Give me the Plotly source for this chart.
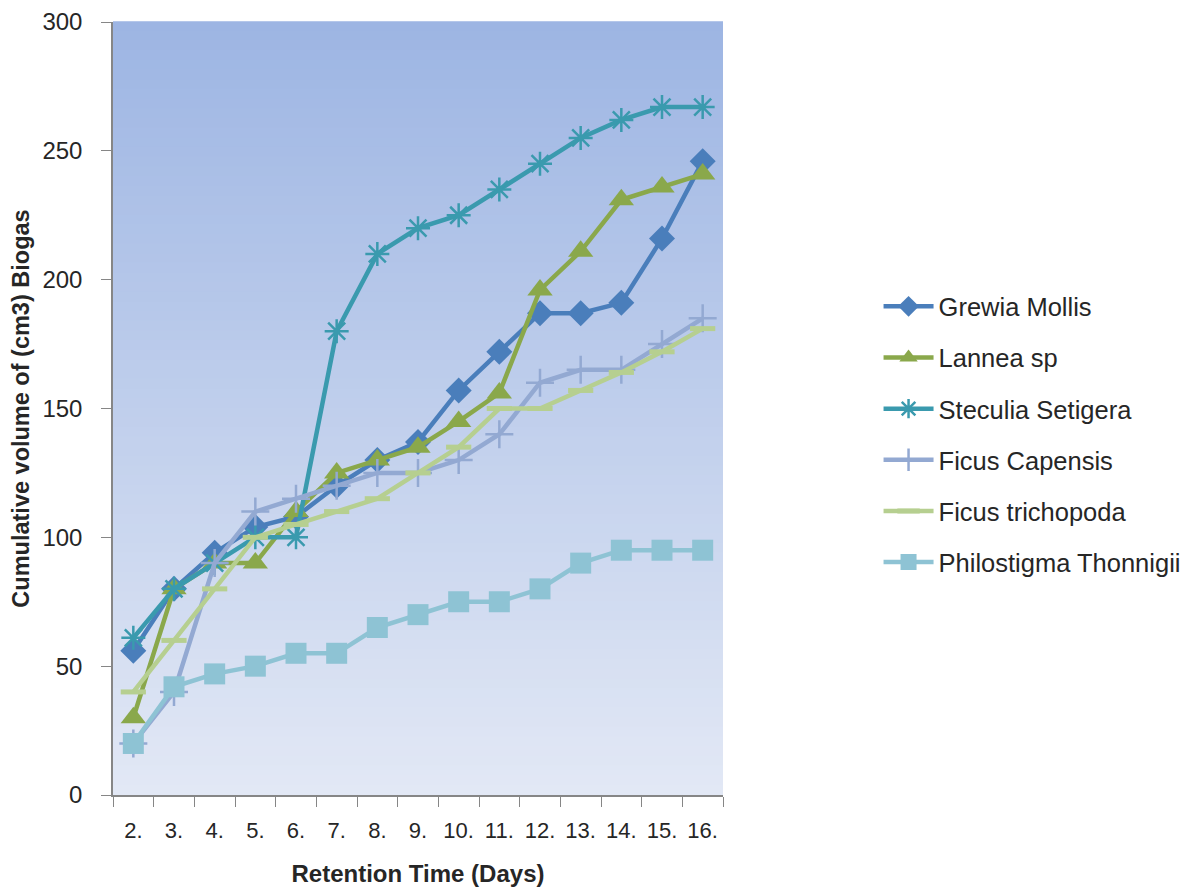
import plotly.graph_objects as go

days = ["2.", "3.", "4.", "5.", "6.", "7.", "8.", "9.", "10.", "11.", "12.", "13.", "14.", "15.", "16."]
grewia = [56, 80, 94, 104, 108, 120, 130, 137, 157, 172, 187, 187, 191, 216, 246]
lannea = [30, 80, 90, 90, 110, 125, 130, 135, 145, 156, 196, 211, 231, 236, 241]
steculia = [61, 80, 90, 100, 100, 180, 210, 220, 225, 235, 245, 255, 262, 267, 267]
capensis = [20, 40, 90, 110, 115, 120, 125, 125, 130, 140, 160, 165, 165, 175, 185]
trichopoda = [40, 60, 80, 100, 105, 110, 115, 125, 135, 150, 150, 157, 164, 172, 181]
philostigma = [20, 42, 47, 50, 55, 55, 65, 70, 75, 75, 80, 90, 95, 95, 95]

series = [
    ("Grewia Mollis", grewia, "#4A7EBB", "diamond", 20),
    ("Lannea sp", lannea, "#8AA84B", "triangle-up", 22),
    ("Steculia Setigera", steculia, "#3A9AAE", "asterisk-open", 20),
    ("Ficus Capensis", capensis, "#93A9D2", "cross-thin-open", 20),
    ("Ficus trichopoda", trichopoda, "#B6CF90", "line-ew-open", 18),
    ("Philostigma Thonnigii", philostigma, "#8EC3D4", "square", 21),
]

fig = go.Figure()

# gradient background via horizontal bands
n = 80
top = (157, 181, 227)
bot = (226, 232, 245)
for i in range(n):
    t = i / (n - 1)
    c = tuple(int(round(top[k] + (bot[k] - top[k]) * t)) for k in range(3))
    fig.add_shape(type="rect", xref="paper", yref="paper",
                  x0=0, x1=1, y0=1 - (i + 1) / n, y1=1 - i / n + 0.001,
                  fillcolor="rgb(%d,%d,%d)" % c, line=dict(width=0), layer="below")

for name, vals, col, sym, sz in series:
    mk = dict(symbol=sym, size=sz, color=col)
    if sym.endswith("open"):
        mk["line"] = dict(color=col, width=2.5 if sym != "line-ew-open" else 5)
    fig.add_trace(go.Scatter(x=days, y=vals, name=name, mode="lines+markers",
                             line=dict(color=col, width=4.5), marker=mk,
                             legendgroup=name))

fig.update_layout(
    width=1188, height=888,
    margin=dict(l=105, r=473, t=14, b=101, autoexpand=False),
    paper_bgcolor="white", plot_bgcolor="rgba(0,0,0,0)",
    font=dict(family="Liberation Sans, Arial", size=24, color="#262626"),
    legend=dict(x=1.255, y=0.662, xanchor="left", yanchor="top",
                font=dict(size=25.5, color="#262626"), tracegroupgap=15,
                bgcolor="rgba(0,0,0,0)", itemwidth=50),
    showlegend=True,
)
fig.update_xaxes(type="category", range=[-0.5, 14.5], tickson="boundaries",
                 ticks="outside", ticklen=10, tickcolor="#868686",
                 showline=True, linecolor="#868686", linewidth=1.5,
                 showgrid=False, zeroline=False, automargin=False,
                 ticklabelstandoff=15, tickangle=0,
                 tickfont=dict(size=22, color="#262626"),
                 title=dict(text="<b>Retention Time (Days)</b>", font=dict(size=24), standoff=23))
fig.update_yaxes(range=[0, 300], tickvals=[0, 50, 100, 150, 200, 250, 300],
                 ticks="outside", ticklen=10, tickcolor="#868686",
                 showline=True, linecolor="#868686", linewidth=1.5,
                 showgrid=False, zeroline=False, automargin=False,
                 ticklabelstandoff=14,
                 tickfont=dict(size=24, color="#262626"),
                 title=dict(text="<b>Cumulative volume of (cm3) Biogas</b>", font=dict(size=23.5), standoff=16))

fig.write_html("out.html")
